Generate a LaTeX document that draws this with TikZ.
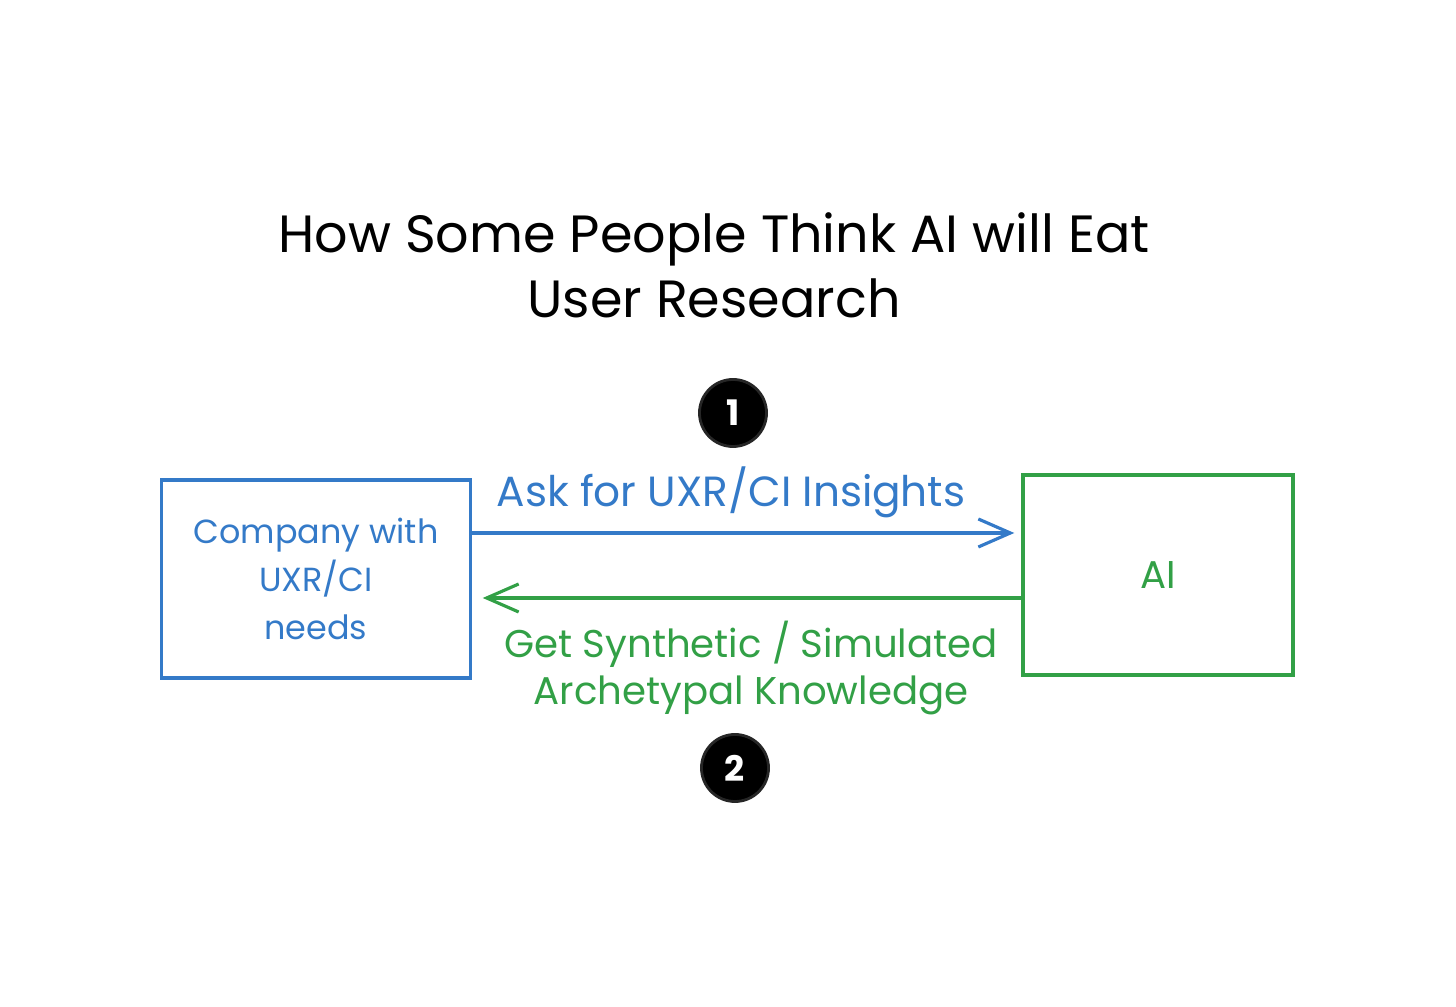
\documentclass[tikz,border=0pt]{standalone}
\usepackage{fontspec}
\setmainfont{Poppins}
\usetikzlibrary{positioning,arrows.meta}
\definecolor{uxblue}{RGB}{52,122,200}
\definecolor{aigreen}{RGB}{50,160,70}

\begin{document}
\begin{tikzpicture}[
  x=0.01cm,y=-0.01cm,
  every node/.style={font=\fontsize{11}{13.4}\selectfont},
  box/.style={draw,line width=0.9pt,inner sep=0pt,align=center},
  flow/.style={line width=0.9pt,-{Straight Barb[length=3.2mm,width=2.8mm,line width=0.9pt]}},
  badge/.style={circle,fill=black,draw=black!85,line width=0.8pt,text=white,
                minimum size=0.67cm,inner sep=0pt,font=\fontsize{10}{12}\selectfont\bfseries},
  lab/.style={align=center,inner sep=1pt}
]
\useasboundingbox (0,0) rectangle (1456,1007);

\node[align=center,font=\fontsize{14.9}{18.5}\selectfont] (title) at (714,265)
  {How Some People Think AI will Eat\\User Research};

\node[box,draw=uxblue,text=uxblue,minimum width=3.09cm,minimum height=1.98cm,
      font=\fontsize{9.5}{13.7}\selectfont]
  (cmp) at (316,579) {Company with\\UXR/CI\\needs};
\node[box,draw=aigreen,text=aigreen,minimum width=2.70cm,minimum height=2.00cm]
  (ai) at (1158,575) {AI};

\coordinate (askrow) at (0,533);
\coordinate (getrow) at (0,598);

\draw[flow,uxblue] (cmp.east |- askrow) -- ([xshift=-2pt]ai.west |- askrow);
\draw[flow,aigreen] (ai.west |- getrow) -- ([xshift=3pt]cmp.east |- getrow);

\node[lab,text=uxblue,font=\fontsize{12}{14}\selectfont] (ask) at (731,492)
  {Ask for UXR/CI Insights};
\node[lab,text=aigreen] (get) at (751,668)
  {Get Synthetic / Simulated\\Archetypal Knowledge};

\node[badge] (one) at (733,413) {1};
\node[badge] (two) at (735,768) {2};

\end{tikzpicture}
\end{document}
